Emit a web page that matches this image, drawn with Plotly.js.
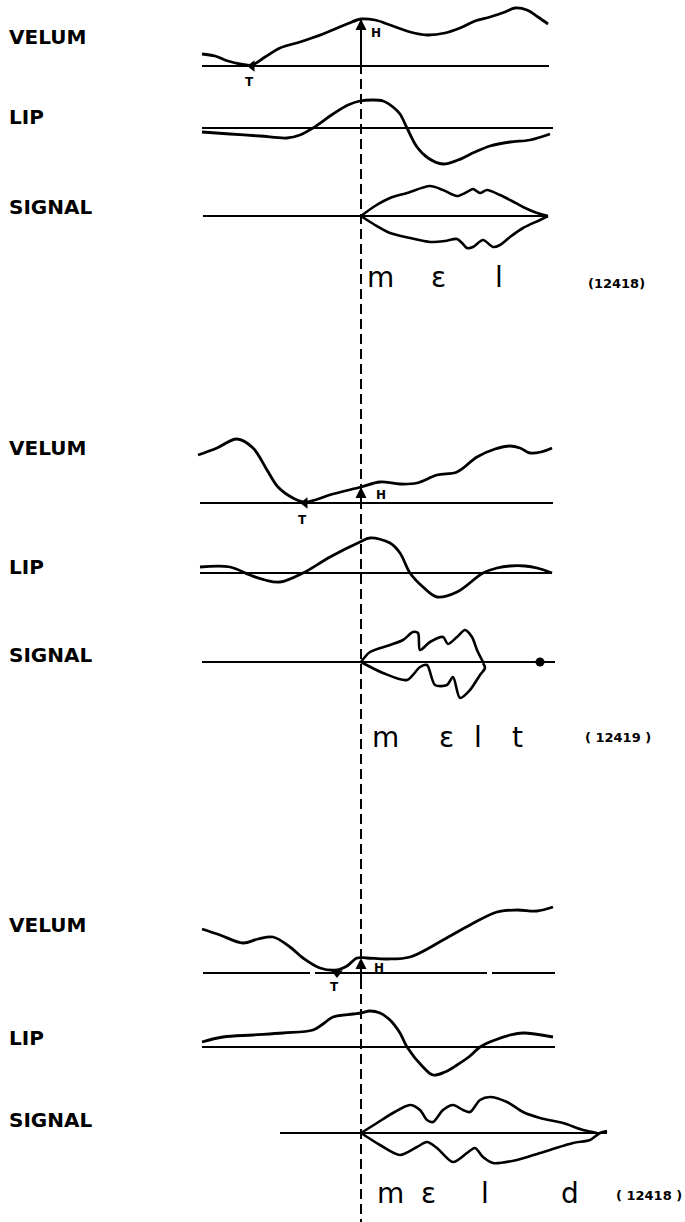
<!DOCTYPE html>
<html><head><meta charset="utf-8">
<script src="https://cdn.plot.ly/plotly-3.0.1.min.js"></script>
<style>html,body{margin:0;padding:0;background:#fff}#chart{width:685px;height:1222px}</style>
</head><body><div id="chart"></div>
<script>
// ---------- DATA (time on x, movement height above each zero line) ----------
const onsetTime = 361;                       // acoustic onset of [m] (dashed line)
const rowNames = ["VELUM", "LIP", "SIGNAL"];
const words = [["m", "ɛ", "l"], ["m", "ɛ", "l", "t"], ["m", "ɛ", "l", "d"]];
const tokenIds = ["(12418)", "( 12419 )", "( 12418 )"];

// token 1 : mel
const velum1Time = [202, 215, 228, 240, 252, 265, 280, 300, 323, 347, 361, 375, 390, 410, 427, 445, 460, 475, 490, 505, 515, 527, 538, 548];
const velum1Height = [12, 10, 5, 2, 1, 9, 18, 24, 32, 42, 47, 46, 41, 34, 31, 33, 38, 45, 49, 54, 58, 56, 49, 42];
const lip1Time = [202, 230, 260, 287, 300, 313, 333, 348, 360, 372, 383, 393, 400, 407, 417, 428, 443, 458, 475, 490, 510, 530, 550];
const lip1Height = [-4, -6, -8, -10, -7, 0, 14, 23, 27, 28, 27, 21, 14, 0, -19, -30, -36, -32, -24, -18, -14, -12, -6];
const sig1UpTime = [361, 375, 390, 407, 430, 443, 457, 467, 473, 480, 487, 500, 512, 523, 537, 548];
const sig1Up = [0, 10, 18, 23, 30, 26, 20, 24, 27, 23, 26, 21, 15, 9, 3, 0];
const sig1LoTime = [361, 375, 390, 410, 430, 445, 457, 463, 467, 473, 483, 493, 500, 510, 523, 540, 548];
const sig1Lo = [0, 9, 17, 22, 26, 25, 23, 28, 32, 31, 24, 31, 29, 21, 12, 4, 0];

// token 2 : melt
const velum2Time = [198, 217, 237, 253, 267, 278, 293, 305, 333, 361, 380, 400, 417, 437, 457, 477, 495, 510, 520, 530, 541, 552];
const velum2Height = [48, 55, 64, 55, 33, 16, 5, 1, 9, 16, 21, 19, 20, 28, 31, 46, 54, 57, 55, 50, 51, 55];
const lip2Time = [200, 230, 250, 265, 280, 303, 330, 360, 370, 390, 400, 410, 423, 437, 457, 483, 497, 510, 525, 537, 552];
const lip2Height = [6, 6, -2, -7, -9, 0, 16, 31, 35, 30, 20, 0, -14, -24, -19, 0, 5, 7, 7, 5, 0];
const sig2UpTime = [361, 370, 390, 403, 413, 418, 420, 430, 443, 448, 457, 465, 472, 477, 483];
const sig2Up = [0, 10, 17, 22, 30, 29, 12, 20, 25, 18, 25, 32, 25, 12, 0];
const sig2LoTime = [361, 383, 407, 420, 427, 435, 447, 453, 460, 470, 480, 485, 483];
const sig2Lo = [0, 11, 18, 5, 3, 23, 23, 15, 36, 28, 13, 6, 1];
const sig2EndTime = [540];

// token 3 : meld
const velum3Time = [202, 220, 243, 258, 273, 290, 303, 320, 337, 347, 357, 367, 387, 410, 443, 470, 497, 517, 537, 553];
const velum3Height = [44, 38, 30, 34, 36, 26, 15, 5, 3, 7, 15, 15, 14, 16, 33, 48, 61, 63, 62, 66];
const lip3Time = [202, 223, 253, 283, 313, 323, 333, 353, 361, 370, 380, 390, 400, 407, 423, 433, 445, 457, 470, 480, 495, 510, 523, 553];
const lip3Height = [5, 10, 12, 14, 17, 23, 30, 33, 34, 36, 34, 27, 14, 0, -20, -28, -25, -18, -9, 0, 7, 12, 14, 10];
const sig3UpTime = [361, 377, 393, 410, 420, 427, 433, 443, 453, 463, 470, 480, 490, 507, 523, 540, 563, 583, 597];
const sig3Up = [0, 10, 20, 28, 23, 13, 11, 23, 28, 23, 21, 33, 36, 31, 21, 15, 10, 3, 0];
const sig3LoTime = [361, 380, 400, 417, 427, 437, 453, 467, 475, 483, 493, 517, 540, 573, 590, 600, 607];
const sig3Lo = [0, 12, 22, 14, 9, 15, 29, 20, 15, 24, 30, 27, 20, 10, 7, 0, -2];

// velum minimum (T) and onset of rise (H) times / heights
const tTime = [252, 305, 337];
const hHeight = [47, 16, 15];

// ---------- LAYOUT (page positions of zero lines etc.) ----------
const zeroY = [[66, 128, 216], [503, 573, 662], [973, 1047, 1133]];
const zeroSpan = [
  [[[202, 549]], [[202, 553]], [[203, 548]]],
  [[[200, 553]], [[200, 552]], [[202, 555]]],
  [[[203, 310], [315, 487], [492, 555]], [[202, 555]], [[280, 607]]]
];
const labelY = [[37, 117, 207], [448, 567, 655], [925, 1038, 1120]];
const wordX = [[380, 438, 499], [385, 446, 478, 517], [390, 428, 485, 570]];
const wordY = [277, 737, 1193];
const idPos = [[646, 283, "right"], [652, 737, "right"], [683, 1195, "right"]];
const hLabel = [[376, 33], [381, 495], [379, 968]];
const tLabelDy = [16, 17, 14];
const hArrowFrom = [0, 0, -14];

const traces = [];
const annotations = [];
const line = (w, sm) => ({color: "#000", width: w, shape: "spline", smoothing: sm});

const sets = [
  {v: [velum1Time, velum1Height], l: [lip1Time, lip1Height], su: [sig1UpTime, sig1Up], sl: [sig1LoTime, sig1Lo]},
  {v: [velum2Time, velum2Height], l: [lip2Time, lip2Height], su: [sig2UpTime, sig2Up], sl: [sig2LoTime, sig2Lo]},
  {v: [velum3Time, velum3Height], l: [lip3Time, lip3Height], su: [sig3UpTime, sig3Up], sl: [sig3LoTime, sig3Lo]}
];

sets.forEach((s, g) => {
  const [zv, zl, zs] = zeroY[g];
  zeroSpan[g].forEach((spans, r) => {
    spans.forEach(sp => traces.push({x: sp, y: [zeroY[g][r], zeroY[g][r]], mode: "lines",
      line: {color: "#000", width: 1.9}, hoverinfo: "skip"}));
  });
  traces.push({x: s.v[0], y: s.v[1].map(h => zv - h), mode: "lines", line: line(2.8, 1.0), hoverinfo: "skip"});
  traces.push({x: s.l[0], y: s.l[1].map(h => zl - h), mode: "lines", line: line(2.8, 1.0), hoverinfo: "skip"});
  traces.push({x: s.su[0], y: s.su[1].map(h => zs - h), mode: "lines", line: line(2.6, 0.8), hoverinfo: "skip"});
  traces.push({x: s.sl[0], y: s.sl[1].map(h => zs + h), mode: "lines", line: line(2.6, 0.8), hoverinfo: "skip"});
  traces.push({x: [tTime[g]], y: [zv], mode: "markers", hoverinfo: "skip",
    marker: {symbol: g === 2 ? "triangle-down" : "triangle-left", size: 10, color: "#000"}});
  annotations.push({x: onsetTime, y: zv - hHeight[g], ax: onsetTime, ay: zv - hArrowFrom[g],
    xref: "x", yref: "y", axref: "x", ayref: "y", text: "", showarrow: true,
    arrowhead: 2, arrowsize: 1.1, arrowwidth: 2, arrowcolor: "#000", standoff: 0, startstandoff: 0});
  annotations.push({x: hLabel[g][0], y: hLabel[g][1], text: "H", showarrow: false, xanchor: "center", yanchor: "middle",
    font: {family: "DejaVu Sans", size: 12, weight: "bold", color: "#000"}});
  annotations.push({x: tTime[g] - 3, y: zv + tLabelDy[g], text: "T", showarrow: false, xanchor: "center", yanchor: "middle",
    font: {family: "DejaVu Sans", size: 12, weight: "bold", color: "#000"}});
  rowNames.forEach((n, r) => annotations.push({x: 7, y: labelY[g][r], text: n, showarrow: false,
    xanchor: "left", yanchor: "middle", font: {family: "DejaVu Sans", size: 20, weight: "bold", color: "#000"}}));
  words[g].forEach((w, i) => annotations.push({x: wordX[g][i], y: wordY[g], text: w, showarrow: false,
    xanchor: "center", yanchor: "middle", font: {family: "DejaVu Sans", size: 28, color: "#000"}}));
  annotations.push({x: idPos[g][0], y: idPos[g][1], text: tokenIds[g], showarrow: false, xanchor: idPos[g][2], yanchor: "middle",
    borderpad: 0, font: {family: "DejaVu Sans", size: 13, weight: "bold", color: "#000"}});
});

traces.push({x: sig2EndTime, y: [zeroY[1][2]], mode: "markers", hoverinfo: "skip",
  marker: {symbol: "circle", size: 9, color: "#000"}});

traces.push({x: [onsetTime, onsetTime], y: [zeroY[0][0] - hHeight[0], 1222], mode: "lines", hoverinfo: "skip",
  line: {color: "#000", width: 2, dash: "10px,5px"}});

const layout = {
  width: 685, height: 1222, margin: {l: 0, r: 0, t: 0, b: 0},
  paper_bgcolor: "#fff", plot_bgcolor: "#fff", showlegend: false,
  xaxis: {range: [0, 685], visible: false, fixedrange: true},
  yaxis: {range: [1222, 0], visible: false, fixedrange: true},
  annotations: annotations
};
Plotly.newPlot("chart", traces, layout, {staticPlot: true, displayModeBar: false});
</script></body></html>
